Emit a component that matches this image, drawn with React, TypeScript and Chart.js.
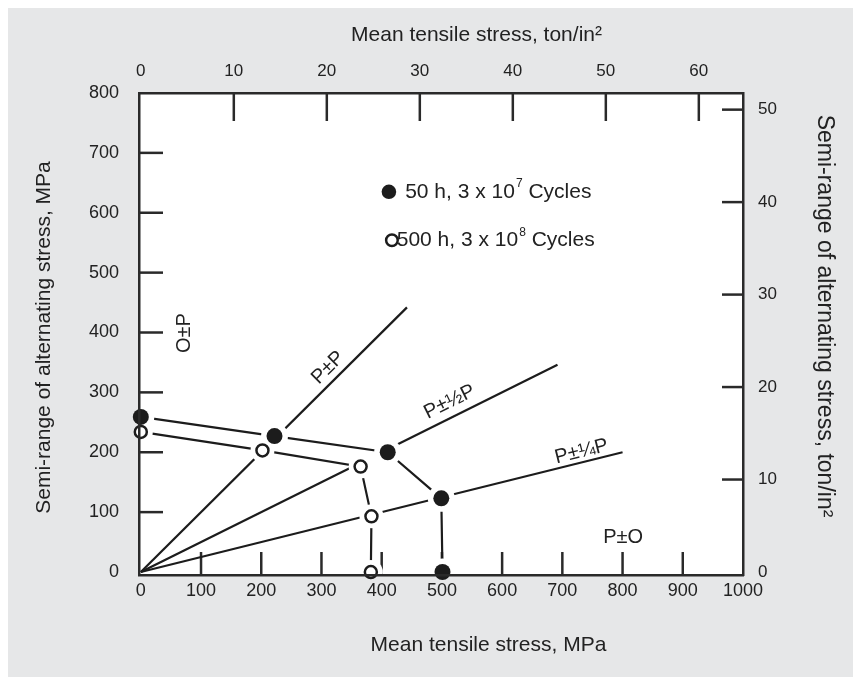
import React, { useEffect, useRef } from "react";
import { Chart, registerables } from "chart.js";

Chart.register(...registerables);

const MPA_PER_TON = 15.444;
const FONT = '"Liberation Sans", Arial, Helvetica, sans-serif';
const INK = "#1c1c1c";
const AXIS = "#2a2a2a";
const TEXT = "#222222";
const BG = "#e6e7e8";

// Tick labels
const MEAN_TICKS = [0, 100, 200, 300, 400, 500, 600, 700, 800, 900, 1000];
const AMP_TICKS = [0, 100, 200, 300, 400, 500, 600, 700, 800];
const MEAN_TON_TICKS = [0, 10, 20, 30, 40, 50, 60];
const AMP_TON_TICKS = [0, 10, 20, 30, 40, 50];

// 50 h, 3 x 10^7 cycles (filled)
const FILLED_MEAN = [0, 222, 410, 499, 501];
const FILLED_AMP = [259, 227, 200, 123, 0];
// 500 h, 3 x 10^8 cycles (open)
const OPEN_MEAN = [0, 202, 365, 383, 382];
const OPEN_AMP = [234, 203, 176, 93, 0];

// Load lines
const PP_MEAN = [0, 442];
const PP_AMP = [0, 442];
const PHALF_LOW_MEAN = [0, 360];
const PHALF_LOW_AMP = [0, 180];
const PHALF_HIGH_MEAN = [410, 692];
const PHALF_HIGH_AMP = [205, 346];
const PQUARTER_MEAN = [0, 800];
const PQUARTER_AMP = [0, 200];

// Text annotations (data coordinates)
const LINE_LABELS = [
  { text: "P\u00B1P", x: 311, y: 341, slope: 1 },
  { text: "P\u00B1\u00BDP", x: 513, y: 284, slope: 0.5 },
  { text: "P\u00B1\u00BCP", x: 732, y: 201, slope: 0.25 },
  { text: "P\u00B1O", x: 801, y: 58, slope: 0 },
  { text: "O\u00B1P", x: 73, y: 399, slope: null },
];

const LEGEND_ITEMS = [
  { filled: true, mx: 412, my: 635, tx: 439, label: "50 h, 3 x 10", sup: "7", rest: " Cycles" },
  { filled: false, mx: 417, my: 554, tx: 425, label: "500 h, 3 x 10", sup: "8", rest: " Cycles" },
];

const pts = (xs: number[], ys: number[]) => xs.map((x, i) => ({ x, y: ys[i] }));

const bgPlugin = {
  id: "bgPlugin",
  beforeDraw(chart: any) {
    const { ctx, chartArea: a, width, height } = chart;
    ctx.save();
    ctx.fillStyle = BG;
    ctx.fillRect(0, 0, width, height);
    ctx.fillStyle = "#ffffff";
    ctx.fillRect(a.left, a.top, a.right - a.left, a.bottom - a.top);
    ctx.restore();
  },
};

const inwardTicks = {
  id: "inwardTicks",
  beforeDatasetsDraw(chart: any) {
    const { ctx, chartArea: a, scales } = chart;
    ctx.save();
    ctx.strokeStyle = AXIS;
    ctx.lineWidth = 2.5;
    const specs = [
      { s: scales.x, vals: MEAN_TICKS, len: 23, side: "bottom" },
      { s: scales.x2, vals: MEAN_TON_TICKS, len: 28, side: "top" },
      { s: scales.y, vals: AMP_TICKS, len: 24, side: "left" },
      { s: scales.y2, vals: AMP_TON_TICKS, len: 21, side: "right" },
    ];
    for (const { s, vals, len, side } of specs) {
      for (const v of vals) {
        const p = s.getPixelForValue(v);
        if (side === "bottom" || side === "top") {
          if (p < a.left + 6 || p > a.right - 6) continue;
          ctx.beginPath();
          if (side === "bottom") {
            ctx.moveTo(p, a.bottom);
            ctx.lineTo(p, a.bottom - len);
          } else {
            ctx.moveTo(p, a.top);
            ctx.lineTo(p, a.top + len);
          }
          ctx.stroke();
        } else {
          if (p > a.bottom - 6 || p < a.top + 6) continue;
          ctx.beginPath();
          if (side === "left") {
            ctx.moveTo(a.left, p);
            ctx.lineTo(a.left + len, p);
          } else {
            ctx.moveTo(a.right, p);
            ctx.lineTo(a.right - len, p);
          }
          ctx.stroke();
        }
      }
    }
    ctx.restore();
  },
};

const textPlugin = {
  id: "textPlugin",
  afterDraw(chart: any) {
    const { ctx, scales } = chart;
    const xs = scales.x;
    const ys = scales.y;
    ctx.save();
    ctx.fillStyle = TEXT;
    ctx.textAlign = "center";
    ctx.textBaseline = "middle";

    // Axis titles
    ctx.font = `21px ${FONT}`;
    ctx.fillText("Mean tensile stress, ton/in\u00B2", 468.5, 27);
    ctx.fillText("Mean tensile stress, MPa", 480.5, 637);
    ctx.save();
    ctx.translate(36, 329.5);
    ctx.rotate(-Math.PI / 2);
    ctx.fillText("Semi-range of alternating stress, MPa", 0, 0);
    ctx.restore();
    ctx.save();
    ctx.font = `23px ${FONT}`;
    ctx.translate(816, 308);
    ctx.rotate(Math.PI / 2);
    ctx.fillText("Semi-range of alternating stress, ton/in\u00B2", 0, 0);
    ctx.restore();

    // Load-line labels
    ctx.font = `20px ${FONT}`;
    const x0 = xs.getPixelForValue(0);
    const y0 = ys.getPixelForValue(0);
    for (const l of LINE_LABELS) {
      const px = xs.getPixelForValue(l.x);
      const py = ys.getPixelForValue(l.y);
      let ang = -Math.PI / 2;
      if (l.slope !== null) {
        const x1 = xs.getPixelForValue(100);
        const y1 = ys.getPixelForValue(100 * (l.slope as number));
        ang = Math.atan2(y1 - y0, x1 - x0);
      }
      ctx.save();
      ctx.translate(px, py);
      ctx.rotate(ang);
      ctx.fillText(l.text, 0, 0);
      ctx.restore();
    }

    // Legend
    for (const it of LEGEND_ITEMS) {
      const mx = xs.getPixelForValue(it.mx);
      const my = ys.getPixelForValue(it.my);
      ctx.beginPath();
      if (it.filled) {
        ctx.arc(mx, my, 7.3, 0, Math.PI * 2);
        ctx.fillStyle = INK;
        ctx.fill();
      } else {
        ctx.arc(mx, my, 5.8, 0, Math.PI * 2);
        ctx.fillStyle = "#ffffff";
        ctx.fill();
        ctx.lineWidth = 2.5;
        ctx.strokeStyle = INK;
        ctx.stroke();
      }
      ctx.fillStyle = TEXT;
      ctx.textAlign = "left";
      ctx.font = `21px ${FONT}`;
      let tx = xs.getPixelForValue(it.tx);
      ctx.fillText(it.label, tx, my);
      tx += ctx.measureText(it.label).width + 1;
      ctx.font = `12px ${FONT}`;
      ctx.fillText(it.sup, tx, my - 8);
      tx += ctx.measureText(it.sup).width;
      ctx.font = `21px ${FONT}`;
      ctx.fillText(it.rest, tx, my);
    }
    ctx.restore();
  },
};

function axisCommon(size: number, pad: number, vals: number[], dim: "width" | "height", fit: number) {
  return {
    type: "linear" as const,
    afterBuildTicks: (s: any) => {
      s.ticks = vals.map((v) => ({ value: v }));
    },
    afterFit: (s: any) => {
      s[dim] = fit;
    },
    grid: { display: true, drawOnChartArea: false, drawTicks: false },
    border: { display: true, color: AXIS, width: 2.5, z: 1 },
    ticks: {
      autoSkip: false,
      maxRotation: 0,
      padding: pad,
      color: TEXT,
      font: { family: FONT, size },
      callback: (v: any) => String(v),
    },
  };
}

export default function App() {
  const ref = useRef<HTMLCanvasElement | null>(null);

  useEffect(() => {
    if (!ref.current) return;
    const lineDs = (label: string, xsArr: number[], ysArr: number[]) => ({
      label,
      data: pts(xsArr, ysArr),
      showLine: true,
      borderColor: INK,
      borderWidth: 2.2,
      pointRadius: 0,
      fill: false,
      order: 2,
    });
    const chart = new Chart(ref.current, {
      type: "scatter",
      data: {
        datasets: [
          {
            label: "50 h, 3 x 10^7 Cycles",
            data: pts(FILLED_MEAN, FILLED_AMP),
            showLine: false,
            pointRadius: 8,
            pointBackgroundColor: INK,
            pointBorderColor: INK,
            pointBorderWidth: 0,
            clip: false,
            order: 0,
          } as any,
          {
            label: "500 h, 3 x 10^8 Cycles",
            data: pts(OPEN_MEAN, OPEN_AMP),
            showLine: false,
            pointRadius: 6,
            pointBackgroundColor: "#ffffff",
            pointBorderColor: INK,
            pointBorderWidth: 2.5,
            clip: false,
            order: 0,
          },
          {
            label: "halo filled",
            data: pts(FILLED_MEAN, FILLED_AMP),
            showLine: false,
            pointRadius: 13.5,
            pointBackgroundColor: "#ffffff",
            pointBorderWidth: 0,
            clip: 0,
            order: 1,
          },
          {
            label: "halo open",
            data: pts(OPEN_MEAN, OPEN_AMP),
            showLine: false,
            pointRadius: 12,
            pointBackgroundColor: "#ffffff",
            pointBorderWidth: 0,
            clip: 0,
            order: 1,
          },
          lineDs("50 h curve", FILLED_MEAN, FILLED_AMP),
          lineDs("500 h curve", OPEN_MEAN, OPEN_AMP),
          lineDs("P±P", PP_MEAN, PP_AMP),
          lineDs("P±½P a", PHALF_LOW_MEAN, PHALF_LOW_AMP),
          lineDs("P±½P b", PHALF_HIGH_MEAN, PHALF_HIGH_AMP),
          lineDs("P±¼P", PQUARTER_MEAN, PQUARTER_AMP),
        ] as any,
      },
      options: {
        responsive: false,
        animation: false,
        devicePixelRatio: 1,
        events: [],
        layout: { padding: 0 },
        plugins: {
          legend: { display: false },
          tooltip: { enabled: false },
          title: { display: false },
        },
        scales: {
          x: { ...axisCommon(18, 5, MEAN_TICKS, "height", 102), position: "bottom", min: -3, max: 1000 },
          x2: {
            ...axisCommon(17, 11, MEAN_TON_TICKS, "height", 85),
            position: "top",
            min: -3 / MPA_PER_TON,
            max: 1000 / MPA_PER_TON,
          },
          y: { ...axisCommon(18, 20, AMP_TICKS, "width", 131), position: "left", min: -5, max: 800 },
          y2: {
            ...axisCommon(17, 15, AMP_TON_TICKS, "width", 110),
            position: "right",
            min: -5 / MPA_PER_TON,
            max: 800 / MPA_PER_TON,
          },
        } as any,
      },
      plugins: [bgPlugin, inwardTicks, textPlugin],
    });
    return () => chart.destroy();
  }, []);

  return (
    <div style={{ position: "fixed", left: 8, top: 8, width: 845, height: 669, background: BG }}>
      <canvas ref={ref} width={845} height={669} style={{ display: "block" }} />
    </div>
  );
}
